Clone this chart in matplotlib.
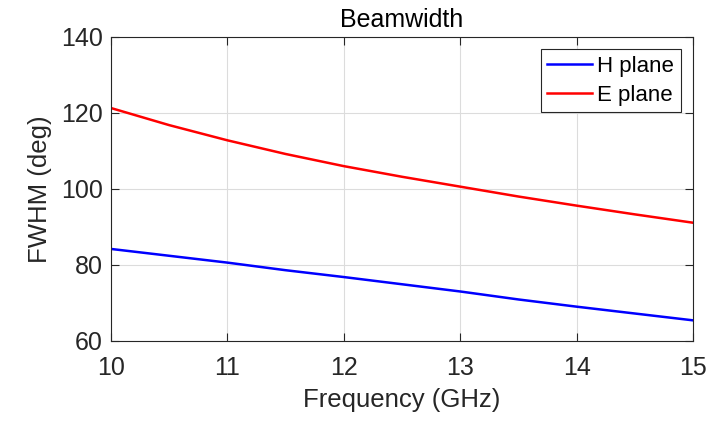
import matplotlib
matplotlib.use("Agg")
import matplotlib.pyplot as plt

freq = [10, 10.5, 11, 11.5, 12, 12.5, 13, 13.5, 14, 14.5, 15]
h_plane = [84.2, 82.4, 80.6, 78.6, 76.8, 74.9, 73.0, 70.9, 69.0, 67.2, 65.4]
e_plane = [121.3, 116.8, 112.8, 109.2, 106.0, 103.2, 100.6, 98.0, 95.6, 93.3, 91.1]

plt.rcParams['font.family'] = ['Liberation Sans', 'DejaVu Sans']

fig = plt.figure(figsize=(7.2, 4.25), dpi=100)
ax = fig.add_axes([0.154, 0.198, 0.8085, 0.715])
ax.plot(freq, h_plane, color='#0000ff', lw=1.8, label='H plane')
ax.plot(freq, e_plane, color='#ff0000', lw=1.8, label='E plane')
ax.set_xlim(10, 15)
ax.set_ylim(60, 140)
ax.set_xticks([10, 11, 12, 13, 14, 15])
ax.set_yticks([60, 80, 100, 120, 140])
ax.grid(True, color='#dcdcdc', lw=0.8)
ax.tick_params(direction='in', top=True, right=True, labelsize=18, length=6,
               color='#262626', width=0.8, labelcolor='#262626')
ax.tick_params(axis='x', pad=11)
ax.tick_params(axis='y', pad=6)
for s in ax.spines.values():
    s.set_color('#262626')
    s.set_linewidth(0.8)
ax.set_xlabel('Frequency (GHz)', fontsize=18.5, labelpad=6, color='#262626')
ax.set_ylabel('FWHM (deg)', fontsize=18.5, labelpad=6, color='#262626')
ax.set_title('Beamwidth', fontsize=18, pad=7)
leg = ax.legend(loc='upper right', fontsize=16, fancybox=False, framealpha=1,
                edgecolor='#262626', handlelength=2.0, handletextpad=0.25,
                labelspacing=0.35, borderpad=0.3, borderaxespad=0.55)
leg.get_frame().set_linewidth(0.8)
fig.savefig('out.png', dpi=100)
